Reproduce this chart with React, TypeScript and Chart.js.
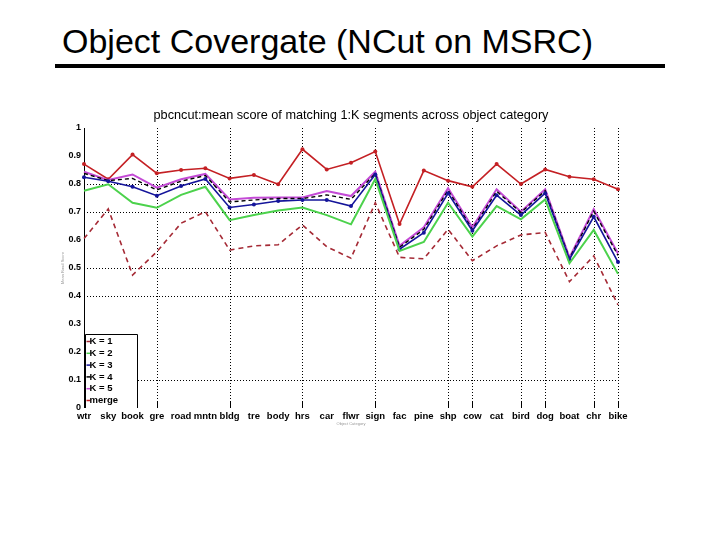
import React, { useEffect, useRef } from 'react';
import { Chart, registerables } from 'chart.js';

Chart.register(...registerables);

const slideTitle = 'Object Covergate (NCut on MSRC)';
const chartTitle = 'pbcncut:mean score of matching 1:K segments across object category';
const yAxisTitle = 'Mean Rand Score';
const xAxisTitle = 'Object Category';

const categories = ['wtr', 'sky', 'book', 'gre', 'road', 'mntn', 'bldg', 'tre', 'body', 'hrs', 'car', 'flwr', 'sign', 'fac', 'pine', 'shp', 'cow', 'cat', 'bird', 'dog', 'boat', 'chr', 'bike'];

const k1Scores = [0.605, 0.711, 0.475, 0.558, 0.66, 0.701, 0.564, 0.579, 0.583, 0.654, 0.576, 0.535, 0.733, 0.538, 0.533, 0.638, 0.526, 0.579, 0.618, 0.627, 0.451, 0.543, 0.368];
const k2Scores = [0.776, 0.799, 0.733, 0.715, 0.761, 0.79, 0.671, 0.689, 0.705, 0.716, 0.689, 0.656, 0.818, 0.561, 0.593, 0.733, 0.612, 0.721, 0.674, 0.745, 0.517, 0.636, 0.479];
const k3Scores = [0.824, 0.81, 0.79, 0.758, 0.793, 0.818, 0.716, 0.727, 0.739, 0.743, 0.743, 0.721, 0.834, 0.567, 0.626, 0.767, 0.633, 0.76, 0.689, 0.767, 0.531, 0.683, 0.521];
const k4Scores = [0.838, 0.812, 0.82, 0.779, 0.81, 0.83, 0.736, 0.743, 0.748, 0.748, 0.761, 0.745, 0.838, 0.574, 0.638, 0.778, 0.638, 0.774, 0.698, 0.776, 0.534, 0.703, 0.545];
const k5Scores = [0.844, 0.814, 0.834, 0.787, 0.817, 0.836, 0.745, 0.751, 0.752, 0.752, 0.775, 0.757, 0.844, 0.579, 0.645, 0.785, 0.645, 0.781, 0.701, 0.781, 0.538, 0.71, 0.552];
const mergeScores = [0.871, 0.817, 0.905, 0.838, 0.85, 0.856, 0.82, 0.832, 0.799, 0.924, 0.852, 0.876, 0.916, 0.657, 0.848, 0.812, 0.79, 0.871, 0.8, 0.852, 0.826, 0.817, 0.781];

const seriesLabels = ['K = 1', 'K = 2', 'K = 3', 'K = 4', 'K = 5', 'merge'];

const visibleXGrid = ['gre', 'bldg', 'hrs', 'sign', 'shp', 'cow', 'bird', 'dog', 'chr', 'bike'];
const visibleYGrid = [0.1, 0.4, 0.5, 0.7, 0.8];

const FONT = "'Liberation Sans', Arial, Helvetica, sans-serif";

const decorPlugin = {
  id: 'decor',
  beforeDatasetsDraw(chart: any) {
    const { ctx, chartArea, scales } = chart;
    const xs = scales.x;
    const ys = scales.y;
    const { left, right, top, bottom } = chartArea;
    ctx.save();
    ctx.strokeStyle = '#000';
    ctx.lineWidth = 1;
    ctx.setLineDash([1, 2]);
    visibleXGrid.forEach((c) => {
      const i = categories.indexOf(c);
      const x = Math.round(xs.getPixelForValue(i)) + 0.5;
      ctx.beginPath();
      ctx.moveTo(x, top);
      ctx.lineTo(x, bottom);
      ctx.stroke();
    });
    visibleYGrid.forEach((v) => {
      const y = Math.round(ys.getPixelForValue(v)) + 0.5;
      ctx.beginPath();
      ctx.moveTo(left, y);
      ctx.lineTo(right, y);
      ctx.stroke();
    });
    ctx.setLineDash([]);
    visibleXGrid.forEach((c) => {
      const i = categories.indexOf(c);
      const x = Math.round(xs.getPixelForValue(i)) + 0.5;
      ctx.beginPath();
      ctx.moveTo(x, bottom - 6);
      ctx.lineTo(x, bottom);
      ctx.stroke();
    });
    const ax = Math.round(left) + 0.5;
    ctx.beginPath();
    ctx.moveTo(ax, top);
    ctx.lineTo(ax, bottom);
    ctx.stroke();
    ctx.fillStyle = '#000';
    ctx.font = `12.7px ${FONT}`;
    ctx.textAlign = 'center';
    ctx.textBaseline = 'middle';
    ctx.fillText(chartTitle, (left + right) / 2, top - 13);
    ctx.restore();
  },
  afterDatasetsDraw(chart: any) {
    const { ctx, chartArea } = chart;
    const { left, right, top, bottom } = chartArea;
    ctx.save();
    const bx = Math.round(left) + 1.5;
    const by = Math.round(bottom - 74) + 0.5;
    const bw = 52;
    ctx.fillStyle = '#fff';
    ctx.fillRect(bx, by, bw, bottom - by);
    ctx.strokeStyle = '#000';
    ctx.lineWidth = 1;
    ctx.beginPath();
    ctx.moveTo(bx, bottom);
    ctx.lineTo(bx, by);
    ctx.lineTo(bx + bw, by);
    ctx.lineTo(bx + bw, bottom);
    ctx.stroke();
    ctx.font = `bold 9.5px ${FONT}`;
    ctx.textBaseline = 'middle';
    ctx.textAlign = 'left';
    chart.data.datasets.forEach((ds: any, i: number) => {
      const ry = by + 7 + i * 11.8;
      ctx.strokeStyle = ds.borderColor;
      ctx.lineWidth = 1.5;
      ctx.beginPath();
      ctx.moveTo(bx + 1, ry);
      ctx.lineTo(bx + 5, ry);
      ctx.stroke();
      ctx.fillStyle = '#000';
      ctx.fillText(ds.label, bx + 4, ry);
    });
    ctx.fillStyle = '#999';
    ctx.font = `4px ${FONT}`;
    ctx.textAlign = 'center';
    ctx.save();
    ctx.translate(left - 21, (top + bottom) / 2);
    ctx.rotate(-Math.PI / 2);
    ctx.fillText(yAxisTitle, 0, 0);
    ctx.restore();
    ctx.fillText(xAxisTitle, (left + right) / 2, bottom + 16);
    ctx.restore();
  },
};

export default function App() {
  const canvasRef = useRef<HTMLCanvasElement | null>(null);

  useEffect(() => {
    const canvas = canvasRef.current;
    if (!canvas) return;
    const mk = (label: string, data: number[], color: string, dash: number[], marker: boolean, width = 1.6) => ({
      label,
      data,
      borderColor: color,
      backgroundColor: color,
      borderWidth: width,
      borderDash: dash,
      pointRadius: marker ? 2 : 0,
      pointHoverRadius: 0,
      pointBorderWidth: 0,
      fill: false,
      tension: 0,
    });
    const chart = new Chart(canvas, {
      type: 'line',
      data: {
        labels: categories,
        datasets: [
          mk(seriesLabels[0], k1Scores, '#a52a35', [5, 4], false),
          mk(seriesLabels[1], k2Scores, '#4cd24c', [], false, 2),
          mk(seriesLabels[2], k3Scores, '#14149a', [], true),
          mk(seriesLabels[3], k4Scores, '#000000', [4, 3], false, 1.4),
          mk(seriesLabels[4], k5Scores, '#c44ad6', [], false, 2),
          mk(seriesLabels[5], mergeScores, '#c42024', [], true),
        ],
      },
      options: {
        responsive: false,
        animation: false,
        layout: { padding: { left: 40, top: 128, right: 102, bottom: 112 } },
        plugins: {
          legend: { display: false },
          tooltip: { enabled: false },
          title: { display: false },
        },
        scales: {
          x: {
            type: 'category',
            offset: false,
            grid: { display: false, drawTicks: false },
            border: { display: false },
            ticks: {
              autoSkip: false,
              maxRotation: 0,
              minRotation: 0,
              padding: 3,
              color: '#000',
              font: { size: 9.5, weight: 'bold', family: FONT },
            },
            afterFit: (s: any) => { s.height = 20; },
          },
          y: {
            min: 0,
            max: 1,
            grid: { display: false, drawTicks: false },
            border: { display: false },
            ticks: {
              stepSize: 0.1,
              padding: 3,
              color: '#000',
              font: { size: 9, weight: 'bold', family: FONT },
              callback: (v: any) => {
                const n = Math.round(Number(v) * 10) / 10;
                if (n === 0) return '0';
                if (n === 1) return '1';
                return n.toFixed(1);
              },
            },
            afterFit: (s: any) => { s.width = 44; },
          },
        },
      },
      plugins: [decorPlugin],
    } as any);
    return () => chart.destroy();
  }, []);

  return (
    <div style={{ position: 'fixed', left: 0, top: 0, width: 720, height: 540, background: '#fff', overflow: 'hidden' }}>
      <div
        style={{
          position: 'absolute',
          left: 62,
          top: 24,
          fontFamily: FONT,
          fontSize: 34,
          lineHeight: '34px',
          color: '#000',
          whiteSpace: 'nowrap',
        }}
      >
        {slideTitle}
      </div>
      <div style={{ position: 'absolute', left: 55, top: 64, width: 610, height: 4, background: '#000' }} />
      <canvas
        ref={canvasRef}
        width={720}
        height={540}
        style={{ position: 'absolute', left: 0, top: 0, width: 720, height: 540 }}
      />
    </div>
  );
}
